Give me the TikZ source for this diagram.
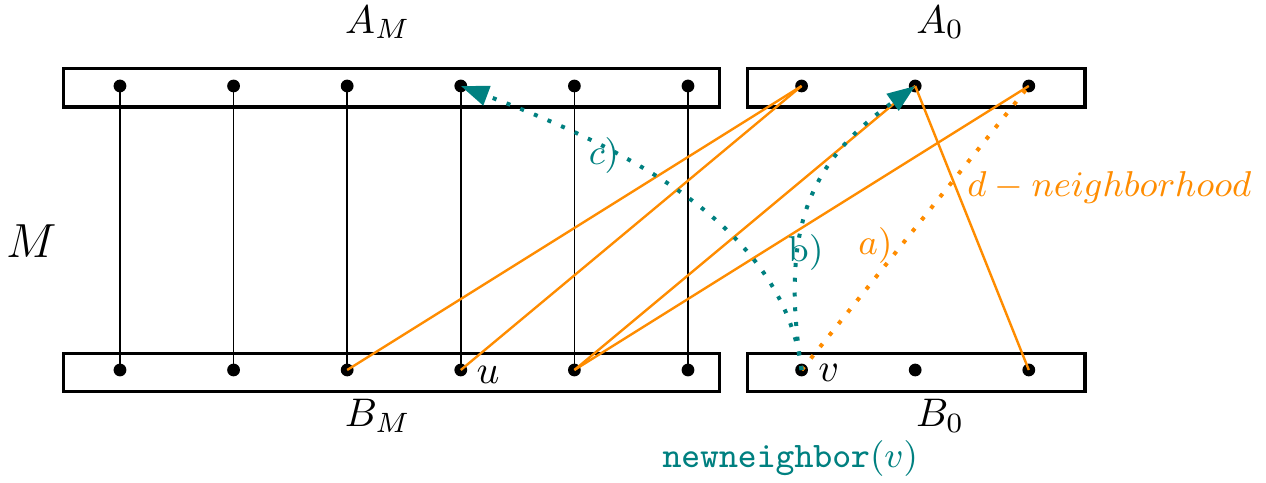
\documentclass[tikz,border=0pt]{standalone}
\usetikzlibrary{arrows.meta, positioning}
\definecolor{nborange}{RGB}{255,140,0}
\begin{document}
\begin{tikzpicture}[
    part/.style ={draw, thick, minimum height=3.4mm, inner sep=0pt},
    vtx/.style  ={circle, fill, inner sep=0pt, minimum size=3.2pt},
    match/.style={thin},
    nbedge/.style={semithick, nborange},
    dotline/.style={line width=1pt, dash pattern=on 1pt off 2.7pt},
    walk/.style ={dotline, teal, -{Triangle[length=7pt, width=5pt]}},
    lbl/.style  ={inner sep=1pt, font=\small},
]
\useasboundingbox (-1.056,-0.986) rectangle (10.088,3.257);
% the two layers, each split into M and 0
\node[part, minimum width=57.8mm] (AM) at (2.39,2.485) {};
\node[part, minimum width=29.7mm] (A0) at (7.01,2.485) {};
\node[part, minimum width=57.8mm] (BM) at (2.39,-0.022) {};
\node[part, minimum width=29.7mm] (B0) at (7.01,-0.022) {};
\foreach \i in {0,...,8} {
  \node[vtx] (a\i) at (\i,2.5) {};
  \node[vtx] (b\i) at (\i,0) {};
}
\foreach \i in {0,...,5}
  \draw[match] (a\i.center) -- (b\i.center);
% edges of the neighborhood
\draw[nbedge] (b2.center) -- (a6.center);
\draw[nbedge] (b3.center) -- (a6.center);
\draw[nbedge] (b4.center) -- (a7.center);
\draw[nbedge] (b4.center) -- (a8.center);
\draw[nbedge] (a7.center) -- (b8.center);
\draw[dotline, nborange] (b6.center) -- (a8.center);
% the new neighbor of v
\draw[walk] (b6.center) .. controls (5.8,1.3) and (6.1,1.85) .. (a7.center);
\draw[walk] (b6.center) .. controls (5.85,1.2) and (4.6,1.9) .. (a3.center);
% labels
\node at (2.27,3.06) {$A_M$};
\node at (7.22,3.06) {$A_0$};
\node at (2.27,-0.40) {$B_M$};
\node at (7.22,-0.40) {$B_0$};
\node[font=\large] at (-0.78,1.13) {$M$};
\node at (3.24,-0.04) {$u$};
\node at (6.24,-0.03) {$v$};
\node[lbl, teal] at (5.90,-0.775) {\texttt{newneighbor}$(v)$};
\node[lbl, nborange] at (8.71,1.61) {$d-neighborhood$};
\node[lbl, nborange] at (6.65,1.10) {$a)$};
\node[lbl, teal] at (6.04,1.03) {b)};
\node[lbl, teal] at (4.26,1.89) {$c)$};
\end{tikzpicture}
\end{document}
